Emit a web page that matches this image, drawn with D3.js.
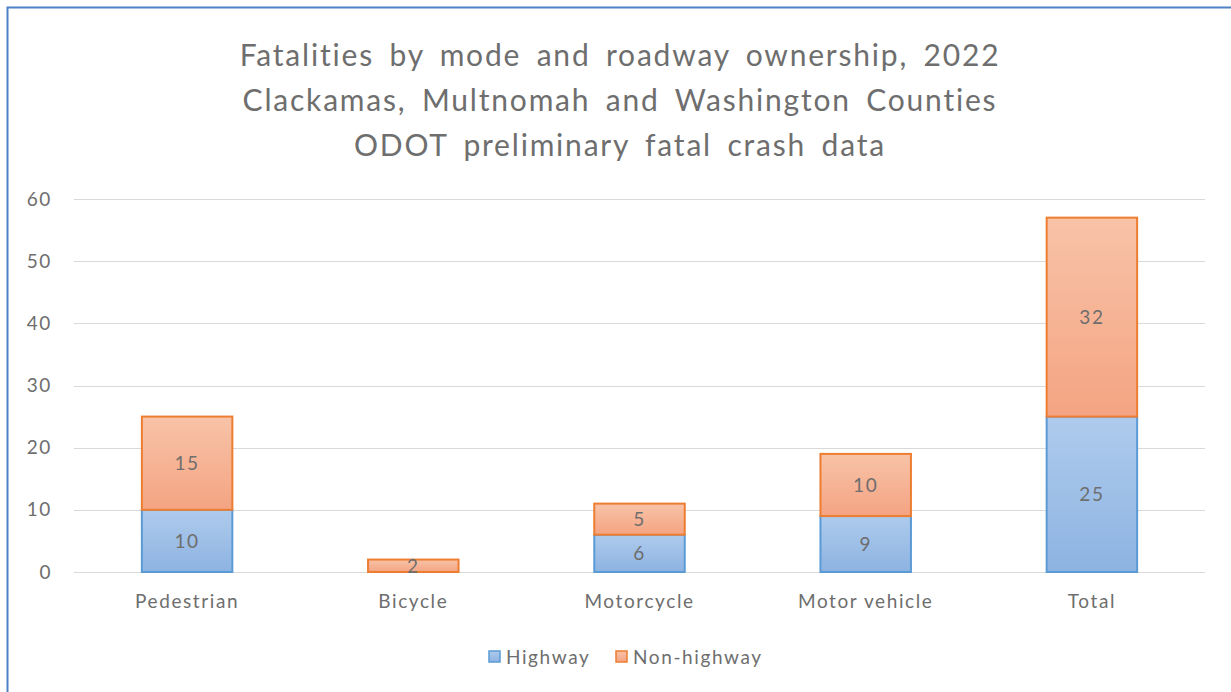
<!DOCTYPE html>
<html>
<head>
<meta charset="utf-8">
<script src="https://cdn.jsdelivr.net/npm/d3@7"></script>
<style>
  body { margin: 0; background: #fff; }
  svg text { font-family: Lato, "Open Sans", sans-serif; fill: #6e6e6e; }
</style>
</head>
<body>
<svg id="chart" width="1231" height="692"></svg>
<script>
// data
const categories = ['Pedestrian', 'Bicycle', 'Motorcycle', 'Motor vehicle', 'Total']
const highway = [10, 0, 6, 9, 25]
const nonHighway = [15, 2, 5, 10, 32]
const seriesNames = ['Highway', 'Non-highway']
const yTicks = [0, 10, 20, 30, 40, 50, 60]
const titleLines = [
    'Fatalities by mode and roadway ownership, 2022',
    'Clackamas, Multnomah and Washington Counties',
    'ODOT preliminary fatal crash data'
]

const svg = d3.select('#chart'),
    width = +svg.attr('width'),
    height = +svg.attr('height');

const margin = {top: 199, right: 26, bottom: 120, left: 74}

// gradients
const defs = svg.append('defs')
const grads = [
    {id: 'gBlue', top: '#aecbec', bottom: '#8db3e2'},
    {id: 'gOrange', top: '#f8c3a8', bottom: '#f4a482'}
]
grads.forEach(g => {
    const lg = defs.append('linearGradient').attr('id', g.id)
        .attr('x1', 0).attr('y1', 0).attr('x2', 0).attr('y2', 1)
    lg.append('stop').attr('offset', '0%').attr('stop-color', g.top)
    lg.append('stop').attr('offset', '100%').attr('stop-color', g.bottom)
})
const fills = ['url(#gBlue)', 'url(#gOrange)']
const strokes = ['#5b9bd5', '#ed7d31']

// outer frame
svg.append('rect')
    .attr('x', 7.5).attr('y', 7.5)
    .attr('width', width + 20).attr('height', height + 20)
    .attr('fill', 'none')
    .attr('stroke', '#4f81c7')
    .attr('stroke-width', 2)

// title
svg.append('g').selectAll('text')
    .data(titleLines)
    .enter().append('text')
    .attr('x', 620)
    .attr('y', (d, i) => 66 + i * 45)
    .attr('text-anchor', 'middle')
    .style('font-size', '30px')
    .style('letter-spacing', '1.8px')
    .style('word-spacing', '6px')
    .attr('fill', '#747474')
    .text(d => d)

const x = d3.scaleBand()
    .domain(categories)
    .range([margin.left, width - margin.right])
    .paddingInner(0.6)
    .paddingOuter(0.3)

const y = d3.scaleLinear()
    .domain([0, 60])
    .range([height - margin.bottom, margin.top])

// gridlines
svg.append('g')
    .selectAll('line')
    .data(yTicks)
    .enter().append('line')
    .attr('x1', margin.left).attr('x2', width - margin.right)
    .attr('y1', d => Math.round(y(d)) + 0.5)
    .attr('y2', d => Math.round(y(d)) + 0.5)
    .attr('stroke', '#d9d9d9')
    .attr('stroke-width', 1)

const labelStyle = sel => sel
    .style('font-size', '19px')
    .style('letter-spacing', '1.6px')
    .attr('fill', '#6e6e6e')

// y axis labels
const yAxis = svg.append('g')
    .attr('transform', `translate(${margin.left - 22},0)`)
    .call(d3.axisLeft(y).tickValues(yTicks).tickSize(0).tickPadding(0))
yAxis.select('.domain').remove()
yAxis.selectAll('text').call(labelStyle)

// x axis labels
const xAxis = svg.append('g')
    .attr('transform', `translate(0,${height - margin.bottom})`)
    .call(d3.axisBottom(x).tickSize(0).tickPadding(23))
xAxis.select('.domain').remove()
xAxis.selectAll('text').call(labelStyle)

// stacked bars
const rows = categories.map((c, i) => ({cat: c, Highway: highway[i], 'Non-highway': nonHighway[i]}))
const stacked = d3.stack().keys(seriesNames)(rows)

const layers = svg.append('g').selectAll('g')
    .data(stacked)
    .enter().append('g')

layers.each(function(layer, si) {
    const g = d3.select(this)
    const shown = layer.filter(d => d[1] - d[0] > 0)
    g.selectAll('rect')
        .data(shown)
        .enter().append('rect')
        .attr('x', d => x(d.data.cat))
        .attr('y', d => y(d[1]))
        .attr('width', x.bandwidth())
        .attr('height', d => y(d[0]) - y(d[1]))
        .attr('fill', fills[si])
        .attr('stroke', strokes[si])
        .attr('stroke-width', 2)
    g.selectAll('text')
        .data(shown)
        .enter().append('text')
        .attr('x', d => x(d.data.cat) + x.bandwidth() / 2)
        .attr('y', d => (y(d[0]) + y(d[1])) / 2 + 7)
        .attr('text-anchor', 'middle')
        .call(labelStyle)
        .text(d => d[1] - d[0])
})

// legend
const legend = svg.append('g').attr('transform', 'translate(489,657)')
const legendX = [0, 127]
seriesNames.forEach((name, i) => {
    const item = legend.append('g').attr('transform', `translate(${legendX[i]},0)`)
    item.append('rect')
        .attr('x', 0).attr('y', -6)
        .attr('width', 11).attr('height', 11)
        .attr('fill', fills[i])
        .attr('stroke', strokes[i])
        .attr('stroke-width', 1.5)
    item.append('text')
        .attr('x', 17).attr('y', 7)
        .call(labelStyle)
        .text(name)
})
</script>
</body>
</html>
